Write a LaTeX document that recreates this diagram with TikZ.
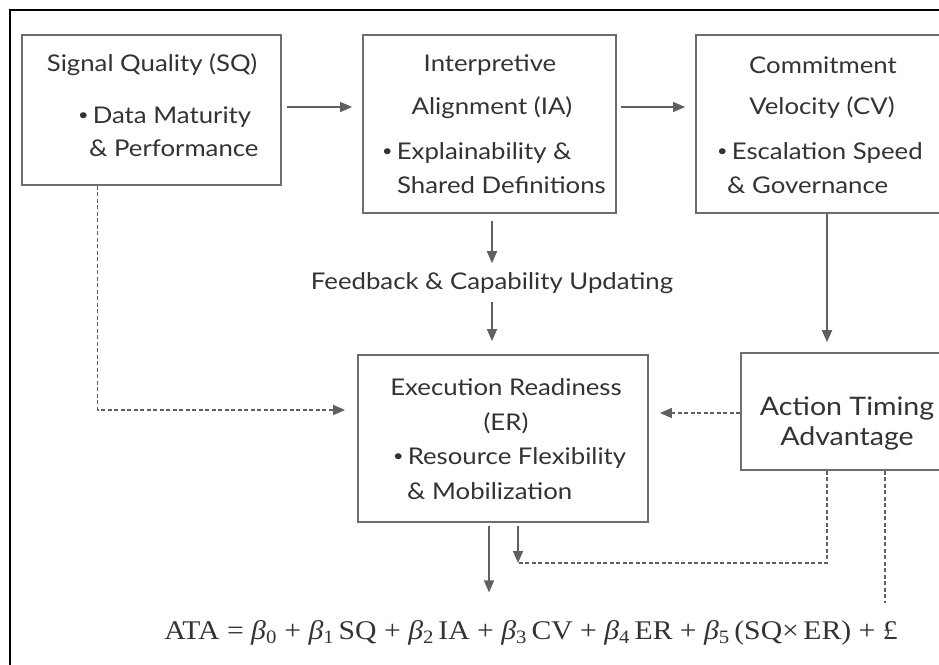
\documentclass[tikz,border=0pt]{standalone}
\usepackage{fontspec}
\setmainfont{Lato}
\newfontfamily\boxfont[FakeStretch=1.12]{Lato}
\newfontfamily\eqfont[FakeStretch=1.1]{Liberation Serif}
\usetikzlibrary{arrows.meta}
\definecolor{txt}{HTML}{333333}
\definecolor{edge}{HTML}{6E6E6E}
\definecolor{link}{HTML}{606060}
\newcommand{\betasub}[1]{{\itshape β}\textsubscript{#1}}
\newcommand{\bul}{\raisebox{0.12em}{\scalebox{0.7}{•}}\hspace{0.18em}}
\tikzset{
  box/.style={draw=edge, line width=1.8pt, fill=white, inner sep=0pt},
  lbl/.style={text=txt, inner sep=0pt, font=\boxfont\fontsize{23}{26}\selectfont},
  biglbl/.style={text=txt, inner sep=0pt, font=\boxfont\fontsize{25.5}{29}\selectfont},
  arr/.style={draw=link, line width=1.4pt, -{Triangle[width=10pt,length=12pt]}},
  dsh/.style={draw=link, line width=1.5pt, dash pattern=on 4pt off 2.5pt},
  dsharr/.style={dsh, -{Triangle[width=10pt,length=12pt]}},
}
\begin{document}
\begin{tikzpicture}[x=1pt, y=-1pt]
\useasboundingbox (0,0) rectangle (939,664);
\clip (0,0) rectangle (939,664);
\fill[white] (0,0) rectangle (939,664);
% outer frame (left and top edges)
\draw[black, line width=2pt] (10,666) -- (10,10) -- (941,10);

% boxes
\node[box, minimum width=259pt, minimum height=150pt] (SQ) at (151.5,110) {};
\node[box, minimum width=253pt, minimum height=178pt] (IA) at (489.5,124) {};
\node[box, minimum width=250pt, minimum height=178pt] (CV) at (821,124) {};
\node[box, minimum width=290pt, minimum height=167pt] (ER) at (503,438.5) {};
\node[box, minimum width=212pt, minimum height=117pt] (ATA) at (847,411.5) {};

% box texts
\node[lbl] (sq1) at (152,65) {Signal Quality (SQ)};
\node[lbl, anchor=west] (sq2) at (78,117) {\bul Data Maturity};
\node[lbl, anchor=west] (sq3) at (89,148) {\& Performance};

\node[lbl] (ia1) at (490,65) {Interpretive};
\node[lbl] (ia2) at (492,108) {Alignment (IA)};
\node[lbl, anchor=west] (ia3) at (382,153) {\bul Explainability \&};
\node[lbl, anchor=west] (ia4) at (397,185) {Shared Definitions};

\node[lbl] (cv1) at (823,65) {Commitment};
\node[lbl] (cv2) at (822,108) {Velocity (CV)};
\node[lbl, anchor=west] (cv3) at (717,153) {\bul Escalation Speed};
\node[lbl, anchor=west] (cv4) at (727,185) {\& Governance};

\node[lbl] (er1) at (506,387) {Execution Readiness};
\node[lbl] (er2) at (506,423) {(ER)};
\node[lbl, anchor=west] (er3) at (393,458) {\bul Resource Flexibility};
\node[lbl, anchor=west] (er4) at (407,491) {\& Mobilization};

\node[biglbl] (ata1) at (847,408) {Action Timing};
\node[biglbl] (ata2) at (847,438) {Advantage};

\node[lbl] (fb) at (492,283) {Feedback \& Capability Updating};

\node[text=txt, inner sep=0pt, font=\eqfont\fontsize{27}{30}\selectfont] (eq) at (531,633)
  {ATA = \betasub{0} + \betasub{1}\,SQ + \betasub{2}\,IA + \betasub{3}\,CV + \betasub{4}\,ER + \betasub{5}\,(SQ×\,ER) + £};

% helper coordinates for connector rows and columns
\coordinate (row1) at (0,107);
\coordinate (colcv) at (827,0);
\coordinate (colsq) at (97.6,0);
\coordinate (rowsq) at (0,410);
\coordinate (rowata) at (0,413);
\coordinate (colout) at (489,0);
\coordinate (colin) at (518,0);
\coordinate (rowin) at (0,563);
\coordinate (colend) at (885,0);
\coordinate (tail) at (885,603);

% solid connectors
\draw[arr, shorten <=5pt, shorten >=10pt] (SQ.east |- row1) -- (IA.west |- row1);
\draw[arr, shorten <=4pt, shorten >=10pt] (IA.east |- row1) -- (CV.west |- row1);
\draw[arr, shorten <=7pt, shorten >=9pt] (IA.south -| fb) -- (fb.north);
\draw[arr, shorten <=8pt, shorten >=13pt] (fb.south) -- (fb.south |- ER.north);
\draw[arr, line width=2pt, shorten >=10pt] (CV.south -| colcv) -- (ATA.north -| colcv);
\draw[arr, shorten <=3pt, shorten >=28pt] (ER.south -| colout) -- (eq.north -| colout);
\draw[arr, shorten <=3pt] (ER.south -| colin) -- (colin |- rowin);

% dashed connectors
\draw[dsharr, shorten >=12pt] (SQ.south -| colsq) |- (ER.west |- rowsq);
\draw[dsharr, shorten >=11pt] (ATA.west |- rowata) -- (ER.east |- rowata);
\draw[dsh] (ATA.south -| colcv) |- (colin |- rowin);
\draw[dsh] (ATA.south -| colend) -- (tail);
\end{tikzpicture}
\end{document}
